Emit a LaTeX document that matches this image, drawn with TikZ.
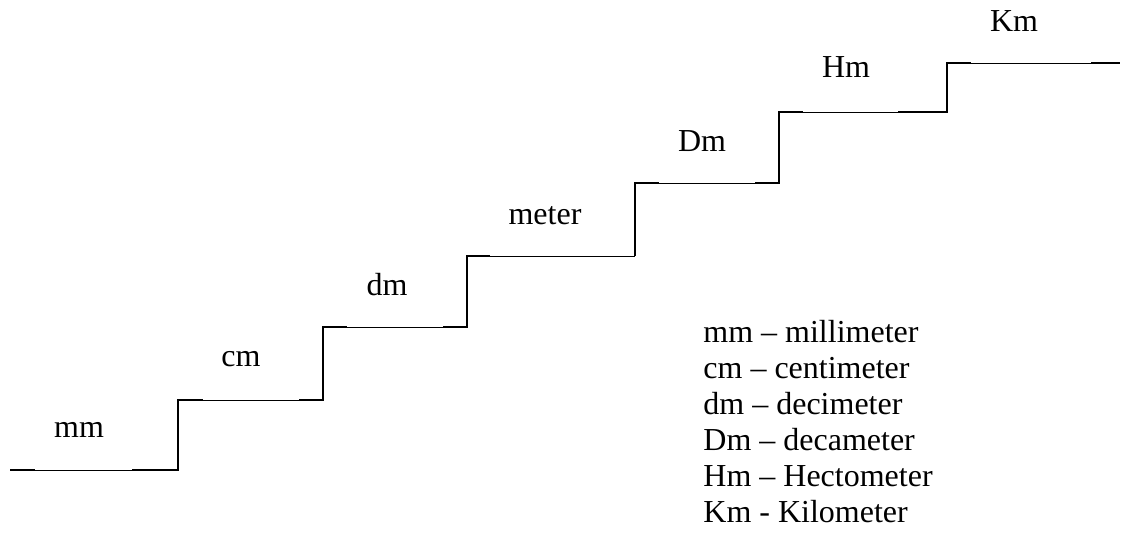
\documentclass[tikz,border=0pt]{standalone}
\usepackage{fontspec}
\setmainfont{Liberation Serif}

\tikzset{
    stepname/.style={font=\fontsize{16}{18}\selectfont, inner sep=0pt, anchor=base},
    legendline/.style={font=\fontsize{16}{18}\selectfont, inner sep=0pt, anchor=base west},
    tread/.style={line width=0.5pt},
    rim/.style={line width=1.4pt}
}

\begin{document}
\begin{tikzpicture}[x=0.5pt, y=-0.5pt]
    \useasboundingbox (0,0) rectangle (1132,533);
    % treads
    \draw[tread] (10,470.5) -- (178,470.5);
    \draw[tread] (178,400.5) -- (323,400.5);
    \draw[tread] (323,327.5) -- (467,327.5);
    \draw[tread] (467,256.5) -- (635,256.5);
    \draw[tread] (635,183.5) -- (779,183.5);
    \draw[tread] (779,112.5) -- (947,112.5);
    \draw[tread] (947,63.5) -- (1120,63.5);

    % risers
    \draw[rim] (10,470) -- (35,470);
    \draw[rim] (132,470) -- (178,470) -- (178,400) -- (203,400);
    \draw[rim] (299,400) -- (323,400) -- (323,327) -- (347,327);
    \draw[rim] (443,327) -- (467,327) -- (467,256) -- (490,256);
    \draw[rim] (635,256) -- (635,183) -- (659,183);
    \draw[rim] (755,183) -- (779,183) -- (779,112) -- (803,112);
    \draw[rim] (898,112) -- (947,112) -- (947,63) -- (971,63);
    \draw[rim] (1091,63) -- (1120,63);

    % units
    \node[stepname] (mm) at (79,438){mm};
    \node[stepname] (cm) at (241,367){cm};
    \node[stepname] (dm) at (387,296){dm};
    \node[stepname] (meter) at (545,225){meter};
    \node[stepname] (Dm) at (702,152){Dm};
    \node[stepname] (Hm) at (846,78){Hm};
    \node[stepname] (Km) at (1014,32){Km};

    % legend
    \node[legendline] (mmtext) at (703,343){mm -- millimeter};
    \node[legendline] (cmtext) at (703,379){cm -- centimeter};
    \node[legendline] (dmtext) at (703,415){dm -- decimeter};
    \node[legendline] (Dmtext) at (703,451){Dm -- decameter};
    \node[legendline] (Hmtext) at (703,487){Hm -- Hectometer};
    \node[legendline] (Kmtext) at (703,523){Km - Kilometer};
\end{tikzpicture}
\end{document}
